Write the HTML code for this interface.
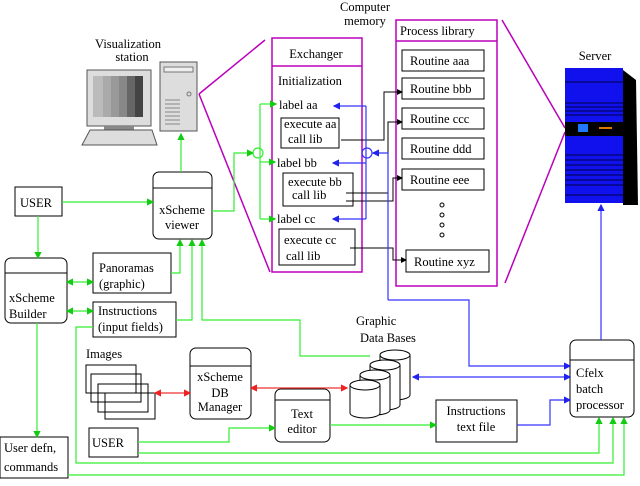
<!DOCTYPE html>
<html><head><style>
html,body{margin:0;padding:0;background:#fff;}
svg text{font-family:"Liberation Serif",serif;font-size:12.5px;fill:#000;}
</style></head><body>
<svg width="640" height="481" viewBox="0 0 640 481" xmlns="http://www.w3.org/2000/svg">
<defs>
<marker id="ag" markerWidth="6" markerHeight="6" refX="5" refY="3" orient="auto"><path d="M0,0 L6,3 L0,6z" fill="#1c1"/></marker>
<marker id="agr" markerWidth="6" markerHeight="6" refX="1" refY="3" orient="auto"><path d="M6,0 L0,3 L6,6z" fill="#1c1"/></marker>
<marker id="ab" markerWidth="6" markerHeight="6" refX="5" refY="3" orient="auto"><path d="M0,0 L6,3 L0,6z" fill="#22e"/></marker>
<marker id="abr" markerWidth="6" markerHeight="6" refX="1" refY="3" orient="auto"><path d="M6,0 L0,3 L6,6z" fill="#22e"/></marker>
<marker id="ak" markerWidth="6" markerHeight="6" refX="5" refY="3" orient="auto"><path d="M0,0 L6,3 L0,6z" fill="#000"/></marker>
<marker id="ar" markerWidth="6" markerHeight="6" refX="5" refY="3" orient="auto"><path d="M0,0 L6,3 L0,6z" fill="#e22"/></marker>
<marker id="arr" markerWidth="6" markerHeight="6" refX="1" refY="3" orient="auto"><path d="M6,0 L0,3 L6,6z" fill="#e22"/></marker>
</defs>

<text x="128" y="48" text-anchor="middle">Visualization</text>
<text x="132" y="61" text-anchor="middle">station</text>
<rect x="87" y="70" width="64" height="56" fill="#ddd" stroke="#555"/>
<rect x="93" y="76" width="50" height="41" fill="#888"/>
<rect x="93" y="76" width="10" height="41" fill="#bbb"/><rect x="103" y="76" width="8" height="41" fill="#aaa"/>
<rect x="111" y="76" width="8" height="41" fill="#999"/><rect x="127" y="76" width="8" height="41" fill="#666"/><rect x="135" y="76" width="8" height="41" fill="#444"/>
<rect x="104" y="126" width="30" height="4" fill="#888"/>
<path d="M90,130 L152,130 L157,145 L82,145z" fill="#ddd" stroke="#555"/>
<rect x="160" y="62" width="37" height="69" fill="#ddd" stroke="#555"/>
<rect x="164" y="67" width="29" height="5" fill="#eee" stroke="#777"/>
<g stroke="#888"><line x1="165" y1="100" x2="180" y2="100"/><line x1="165" y1="104" x2="180" y2="104"/><line x1="165" y1="108" x2="180" y2="108"/><line x1="165" y1="112" x2="180" y2="112"/><line x1="165" y1="116" x2="180" y2="116"/><line x1="165" y1="120" x2="180" y2="120"/><line x1="165" y1="124" x2="180" y2="124"/></g>
<circle cx="189" cy="94" r="2" fill="none" stroke="#777"/>

<g stroke="#b0b" stroke-width="1.5" fill="none">
<line x1="199" y1="94" x2="265" y2="40"/><line x1="199" y1="94" x2="270" y2="272"/>
<line x1="502" y1="20" x2="565" y2="128"/><line x1="505" y1="283" x2="565" y2="132"/>
<rect x="272" y="38" width="90" height="234"/><line x1="272" y1="66" x2="362" y2="66"/>
<rect x="396" y="20" width="101" height="266"/><line x1="396" y1="41" x2="497" y2="41"/>
</g>
<text x="365" y="11" text-anchor="middle">Computer</text>
<text x="365" y="25" text-anchor="middle">memory</text>
<text x="316" y="58" text-anchor="middle">Exchanger</text>
<text x="278" y="85">Initialization</text>
<text x="400" y="35">Process library</text>
<text x="279" y="109">label aa</text>
<text x="277" y="167">label bb</text>
<text x="277" y="223">label cc</text>
<g fill="none" stroke="#000"><rect x="281" y="118" width="58" height="30"/><rect x="283" y="173" width="70" height="33"/><rect x="279" y="229" width="76" height="36"/>
<rect x="402" y="50" width="82" height="21"/><rect x="402" y="78" width="82" height="21"/><rect x="402" y="108" width="82" height="21"/><rect x="402" y="138" width="82" height="21"/><rect x="402" y="169" width="82" height="21"/><rect x="406" y="250" width="83" height="22"/>
<circle cx="442" cy="205" r="2"/><circle cx="442" cy="215" r="2"/><circle cx="442" cy="225" r="2"/><circle cx="442" cy="235" r="2"/></g>
<text x="284" y="128">execute aa</text><text x="288" y="143">call lib</text>
<text x="288" y="186">execute bb</text><text x="292" y="199">call lib</text>
<text x="284" y="244">execute cc</text><text x="286" y="260">call lib</text>
<text x="410" y="65">Routine aaa</text><text x="410" y="93">Routine bbb</text><text x="410" y="123">Routine ccc</text><text x="410" y="153">Routine ddd</text><text x="410" y="184">Routine eee</text><text x="414" y="266">Routine xyz</text>
<g fill="none" stroke="#000" marker-end="url(#ak)">
<polyline points="341,140 384,140 384,92 402,92"/><polyline points="346,193 388,193 388,122 402,122"/>
<polyline points="346,201 393,201 393,178 402,178"/><polyline points="350,248 393,248 393,260 406,260"/></g>

<text x="595" y="60" text-anchor="middle">Server</text>
<path d="M623,70 L636,80 L638,205 L623,205z" fill="#000"/>
<rect x="565" y="68" width="58" height="135" fill="#11e"/>
<rect x="565" y="122" width="58" height="14" fill="#000"/>
<rect x="578" y="124" width="10" height="8" fill="#27f"/><rect x="599" y="127" width="13" height="2" fill="#d70"/>
<g stroke="#004" stroke-width="1"><line x1="565" y1="82" x2="623" y2="82"/><line x1="565" y1="103" x2="623" y2="103"/><line x1="565" y1="107" x2="623" y2="107"/><line x1="565" y1="111" x2="623" y2="111"/><line x1="565" y1="115" x2="623" y2="115"/><line x1="565" y1="155" x2="623" y2="155"/><line x1="565" y1="160" x2="623" y2="160"/><line x1="565" y1="165" x2="623" y2="165"/><line x1="565" y1="170" x2="623" y2="170"/><line x1="565" y1="175" x2="623" y2="175"/><line x1="565" y1="180" x2="623" y2="180"/><line x1="565" y1="185" x2="623" y2="185"/><line x1="565" y1="195" x2="623" y2="195"/></g>

<g fill="none" stroke="#000">
<rect x="15" y="187" width="47" height="29"/>
<rect x="153" y="172" width="59" height="67" rx="6"/><line x1="153" y1="188" x2="212" y2="188"/>
<rect x="5" y="258" width="62" height="65" rx="6"/><line x1="5" y1="273" x2="67" y2="273"/>
<rect x="93" y="253" width="78" height="40"/><rect x="93" y="302" width="83" height="35"/>
<rect x="86" y="365" width="50" height="28"/><rect x="91" y="374" width="50" height="28"/><rect x="98" y="384" width="50" height="28"/><rect x="105" y="393" width="50" height="26"/>
<rect x="190" y="348" width="61" height="71" rx="6"/><line x1="190" y1="366" x2="251" y2="366"/>
<rect x="275" y="389" width="55" height="53" rx="6"/><line x1="275" y1="400" x2="330" y2="400"/>
<rect x="436" y="400" width="81" height="42"/>
<rect x="570" y="340" width="64" height="77" rx="6"/><line x1="570" y1="360" x2="634" y2="360"/>
<rect x="89" y="428" width="49" height="29"/><rect x="0" y="437" width="68" height="41"/>
</g>
<text x="20" y="207">USER</text>
<text x="182" y="214" text-anchor="middle">xScheme</text><text x="182" y="229" text-anchor="middle">viewer</text>
<text x="9" y="302">xScheme</text><text x="9" y="318">Builder</text>
<text x="99" y="272">Panoramas</text><text x="99" y="288">(graphic)</text>
<text x="98" y="315">Instructions</text><text x="98" y="331">(input fields)</text>
<text x="86" y="358">Images</text>
<text x="220" y="381" text-anchor="middle">xScheme</text><text x="220" y="397" text-anchor="middle">DB</text><text x="220" y="411" text-anchor="middle">Manager</text>
<text x="302" y="418" text-anchor="middle">Text</text><text x="302" y="433" text-anchor="middle">editor</text>
<text x="476" y="415" text-anchor="middle">Instructions</text><text x="476" y="431" text-anchor="middle">text file</text>
<text x="576" y="377">Cfelx</text><text x="576" y="393">batch</text><text x="576" y="409">processor</text>
<text x="92" y="447">USER</text>
<text x="4" y="452">User defn,</text><text x="4" y="471">commands</text>
<text x="356" y="325">Graphic</text><text x="360" y="342">Data Bases</text>

<g fill="#fff" stroke="#000">
<path d="M380,355 v40 a15,5 0 0 0 30,0 v-40"/><ellipse cx="395" cy="355" rx="15" ry="5"/>
<path d="M370,365 v40 a15,5 0 0 0 30,0 v-40"/><ellipse cx="385" cy="365" rx="15" ry="5"/>
<path d="M360,375 v35 a15,5 0 0 0 30,0 v-35"/><ellipse cx="375" cy="375" rx="15" ry="5"/>
<path d="M350,385 v28 a15,5 0 0 0 30,0 v-28"/><ellipse cx="365" cy="385" rx="15" ry="5"/>
</g>

<g fill="none" stroke="#3e3" stroke-width="1.2">
<line x1="62" y1="202" x2="153" y2="202" marker-end="url(#ag)"/>
<line x1="181" y1="172" x2="181" y2="134" marker-end="url(#ag)"/>
<polyline points="212,211 234,211 234,153 253,153" marker-end="url(#ag)"/>
<circle cx="258" cy="153" r="5"/>
<line x1="260" y1="104" x2="260" y2="219"/>
<line x1="260" y1="104" x2="276" y2="104" marker-end="url(#ag)"/>
<line x1="260" y1="162" x2="275" y2="162" marker-end="url(#ag)"/>
<line x1="260" y1="219" x2="275" y2="219" marker-end="url(#ag)"/>
<line x1="38" y1="216" x2="38" y2="258" marker-end="url(#ag)"/>
<line x1="67" y1="282" x2="93" y2="282" marker-start="url(#agr)" marker-end="url(#ag)"/>
<line x1="67" y1="311" x2="93" y2="311" marker-start="url(#agr)" marker-end="url(#ag)"/>
<polyline points="171,273 180,273 180,240" marker-end="url(#ag)"/>
<polyline points="176,320 192,320 192,240" marker-end="url(#ag)"/>
<polyline points="370,356 300,356 300,320 202,320 202,240" marker-end="url(#ag)"/>
<line x1="37" y1="323" x2="37" y2="437" marker-end="url(#ag)"/>
<polyline points="93,327 76,327 76,463 613,463 613,418" marker-end="url(#ag)"/>
<polyline points="68,475 624,475 624,418" marker-end="url(#ag)"/>
<polyline points="138,442 229,442 229,428 275,428" marker-end="url(#ag)"/>
<polyline points="138,453 599,453 599,418" marker-end="url(#ag)"/>
<line x1="330" y1="425" x2="436" y2="425" marker-end="url(#ag)"/>
</g>

<g fill="none" stroke="#33f" stroke-width="1.2">
<line x1="366" y1="106" x2="366" y2="219"/>
<line x1="366" y1="106" x2="334" y2="106" marker-end="url(#ab)"/>
<line x1="366" y1="163" x2="333" y2="163" marker-end="url(#ab)"/>
<line x1="366" y1="219" x2="333" y2="219" marker-end="url(#ab)"/>
<circle cx="367" cy="153" r="5"/>
<polyline points="388,300 388,153 373,153" marker-end="url(#ab)"/>
<polyline points="388,300 469,300 469,366 570,366" marker-end="url(#ab)"/>
<line x1="601" y1="340" x2="601" y2="205" marker-end="url(#ab)"/>
<line x1="413" y1="377" x2="570" y2="377" marker-start="url(#abr)" marker-end="url(#ab)"/>
<polyline points="517,425 550,425 550,400 570,400" marker-end="url(#ab)"/>
</g>

<g stroke="#e33" stroke-width="1.2">
<line x1="155" y1="393" x2="190" y2="393" marker-start="url(#arr)" marker-end="url(#ar)"/>
<line x1="251" y1="388" x2="347" y2="388" marker-start="url(#arr)" marker-end="url(#ar)"/>
</g>
</svg>
</body></html>
